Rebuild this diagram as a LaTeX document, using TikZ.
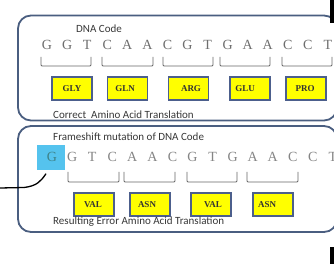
\documentclass[tikz,border=0pt]{standalone}
\usepackage{fontspec}
\usetikzlibrary{calc}
\newfontfamily\calib{Carlito}
\newfontfamily\tnr{Liberation Serif}
\definecolor{panel}{HTML}{4A5E80}
\definecolor{boxedge}{HTML}{4C5F8C}
\definecolor{dnagray}{HTML}{6E6E6E}
\definecolor{dnagraylt}{HTML}{858585}
\definecolor{mutblue}{HTML}{55C3EE}
\definecolor{gteal}{HTML}{3E8288}
\definecolor{aayellow}{HTML}{FFFF00}
\tikzset{
  panelbox/.style={draw=panel, line width=1.8pt, rounded corners=13pt},
  dnaletter/.style={font=\tnr\fontsize{14}{14}\selectfont, text=dnagray, inner sep=0pt, anchor=center},
  aabox/.style={draw=boxedge, line width=1.4pt, fill=aayellow, minimum width=40pt, minimum height=23pt, inner sep=0pt},
  aatext/.style={font=\tnr\bfseries\fontsize{9}{9}\selectfont, text=black!80, inner sep=0pt},
  caption/.style={font=\calib\fontsize{11}{11}\selectfont, text=black!78, anchor=base west, inner sep=0pt},
  codon/.style={draw=black!60, line width=0.8pt, rounded corners=1pt},
  squiggle/.style={draw=black, line width=1.3pt, line cap=round}
}
\begin{document}
\begin{tikzpicture}[x=1pt,y=-1pt]
\useasboundingbox (0,0) rectangle (334,264);
\fill[white] (0,0) rectangle (334,264);
\clip (0,0) rectangle (334,264);

% panels
\draw[panelbox] (18,15.5) rectangle (337,120.5);
\draw[panelbox] (18,126) rectangle (337,232);

% ---- top panel ----
\node[caption] (dnacode) at (76,33) {DNA Code};
\foreach \L [count=\i from 0] in {G,G,T,C,A,A,C,G,T,G,A,A,C,C,T}{
  \node[dnaletter] (t\i) at ({47+20.07*\i},45) {\L};
}
\foreach \a/\b in {41/91,102/153,163/213,220/270,282/332}{
  \draw[codon] (\a,57) -- (\a,66) -- (\b,66) -- (\b,57);
}
\node[aabox] (gly) at (72,88.5) {};
\node[aatext] at (72,88.5) {GLY};
\node[aabox] (gln) at (127.5,88.5) {};
\node[aatext] at (125,88.5) {GLN};
\node[aabox] (arg) at (188.5,88.5) {};
\node[aatext] at (191,88.5) {ARG};
\node[aabox] (glu) at (250,88.5) {};
\node[aatext] at (245,88.5) {GLU};
\node[aabox] (pro) at (306,88.5) {};
\node[aatext] at (305,88.5) {PRO};
\node[caption] (correct) at (53,119) {Correct\ \ Amino Acid Translation};

% ---- bottom panel ----
\node[caption] (frame) at (53,141) {Frameshift mutation of DNA Code};
\node[fill=mutblue, minimum width=28pt, minimum height=24.5pt, inner sep=0pt] (mut) at (51,157.5) {};
\node[dnaletter, text=gteal] (b0) at (52,157) {G};
\foreach \L [count=\i from 1] in {G,T,C,A,A,C,G,T,G,A,A,C,C,T}{
  \node[dnaletter, text=dnagraylt] (b\i) at ({52+20.07*\i},157) {\L};
}
\foreach \a/\b in {68/119,124/175,187/237,247/298}{
  \draw[codon] (\a,172) -- (\a,182) -- (\b,182) -- (\b,172);
}
\node[aabox] (val1) at (94,204.5) {};
\node[aatext] at (93,204.5) {VAL};
\node[aabox] (asn1) at (150,204.5) {};
\node[aatext] at (147,204.5) {ASN};
\node[aabox] (val2) at (211,204.5) {};
\node[aatext] at (213,204.5) {VAL};
\node[aabox] (asn2) at (273,204.5) {};
\node[aatext] at (267,204.5) {ASN};
\node[caption] (result) at (53,224) {Resulting Error Amino Acid Translation};

% hand-drawn pointer
\coordinate (penstart) at (0,188);
\coordinate (pentip) at ($(mut.south west)+(9,4)$);
\draw[squiggle] (penstart) -- (24,187.5) .. controls (37,186) and (41,181) .. (pentip);

% screenshot edge bars
\fill[black] (330,0) rectangle (334,23);
\fill[black] (330,247) rectangle (334,264);
\end{tikzpicture}
\end{document}
